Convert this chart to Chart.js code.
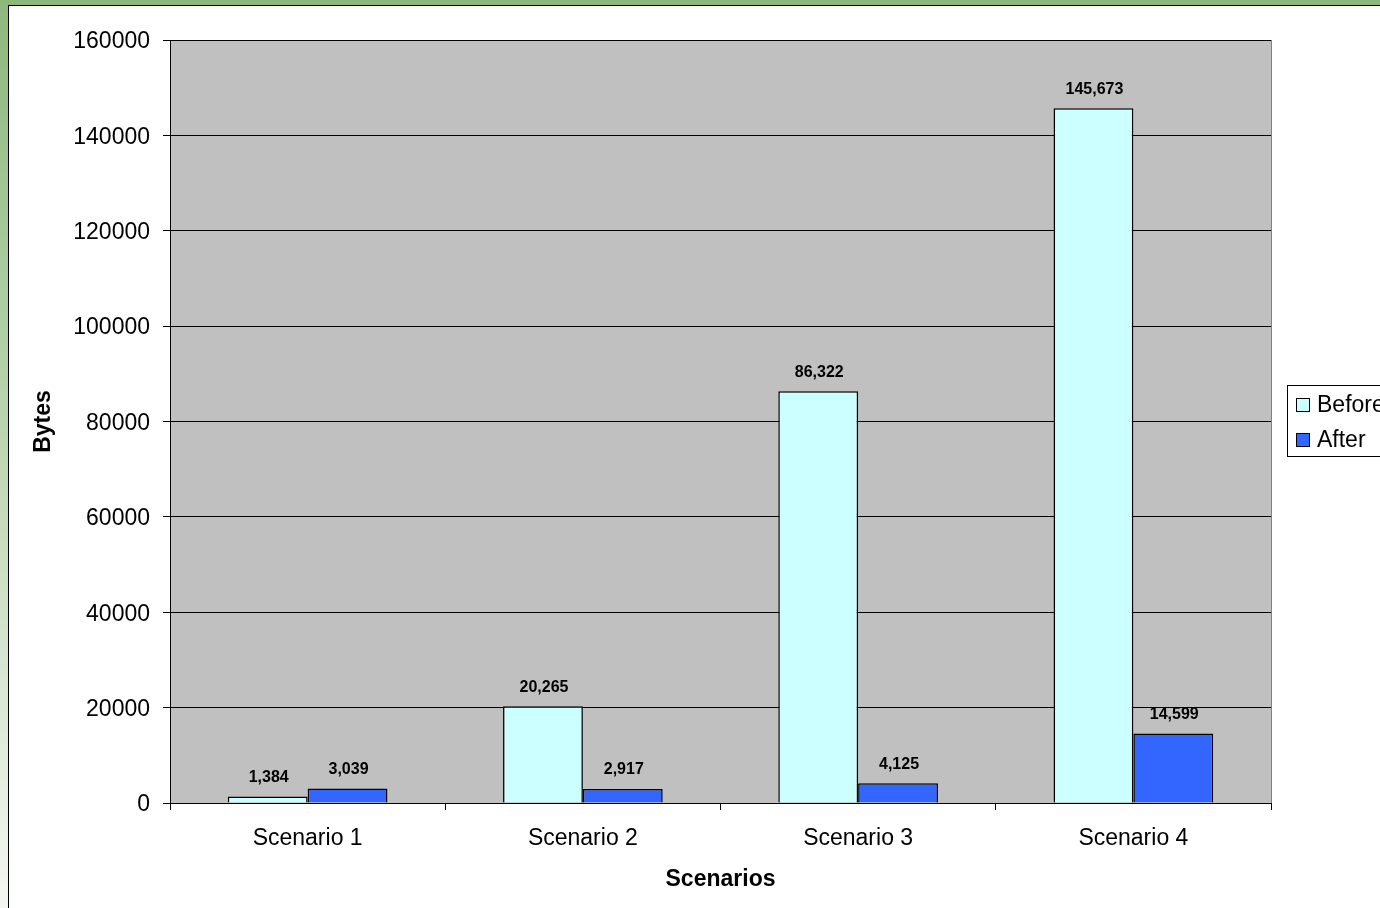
<!DOCTYPE html>
<html>
<head>
<meta charset="utf-8">
<script src="https://cdn.jsdelivr.net/npm/chart.js@4/dist/chart.umd.min.js"></script>
<style>
  html, body { margin: 0; padding: 0; width: 1380px; height: 908px; overflow: hidden; }
  body { background: linear-gradient(to bottom, #8db87c 0%, #b9d3ae 45%, #f3f7f1 100%); position: relative; }
  #frame { position: absolute; left: 8px; top: 5px; right: 0; bottom: 0; background: #fff;
           border-left: 1px solid #000; border-top: 1px solid #000; }
  #topStrip { position: absolute; left: 0; top: 0; right: 0; height: 5px; background: #8db87c; }
  #byteChart { position: absolute; left: 0; top: 0; }
</style>
</head>
<body>
<div id="topStrip"></div>
<div id="frame"></div>
<canvas id="byteChart" width="1380" height="908"></canvas>
<script>
const scenarios = ["Scenario 1", "Scenario 2", "Scenario 3", "Scenario 4"];
const beforeBytes = [1384, 20265, 86322, 145673];
const afterBytes = [3039, 2917, 4125, 14599];
const yTicks = [0, 20000, 40000, 60000, 80000, 100000, 120000, 140000, 160000];

const FONT = "'Liberation Sans', Arial, sans-serif";

// gray plot area + frame
const plotBackground = {
  id: 'plotBackground',
  beforeDraw(chart) {
    const {ctx, chartArea: a} = chart;
    ctx.save();
    ctx.fillStyle = '#c0c0c0';
    ctx.fillRect(a.left, a.top, a.right - a.left, a.bottom - a.top);
    ctx.strokeStyle = '#808080';
    ctx.lineWidth = 1;
    ctx.strokeRect(a.left + 0.5, a.top + 0.5, a.right - a.left, a.bottom - a.top);
    ctx.restore();
  }
};

// numbers above bars
const barValues = {
  id: 'barValues',
  afterDatasetsDraw(chart) {
    const {ctx} = chart;
    ctx.save();
    ctx.font = "bold 16px " + FONT;
    ctx.fillStyle = '#000';
    ctx.textAlign = 'center';
    ctx.textBaseline = 'middle';
    chart.data.datasets.forEach((ds, i) => {
      chart.getDatasetMeta(i).data.forEach((bar, j) => {
        ctx.fillText(ds.data[j].toLocaleString('en-US'), bar.x + 1, bar.y - 19);
      });
    });
    ctx.restore();
  }
};

// legend box on the right (runs off the edge like the original)
const sideLegend = {
  id: 'sideLegend',
  afterDraw(chart) {
    const {ctx} = chart;
    const x = 1287.5, y = 385.5;
    ctx.save();
    ctx.fillStyle = '#fff';
    ctx.strokeStyle = '#000';
    ctx.lineWidth = 1;
    ctx.fillRect(x, y, 120, 71);
    ctx.strokeRect(x, y, 120, 71);
    ctx.font = "23px " + FONT;
    ctx.textBaseline = 'middle';
    chart.data.datasets.forEach((ds, i) => {
      const cy = 405 + i * 35;
      ctx.fillStyle = ds.backgroundColor;
      ctx.fillRect(1296.5, cy - 6.5, 13, 13);
      ctx.strokeRect(1296.5, cy - 6.5, 13, 13);
      ctx.fillStyle = '#000';
      ctx.fillText(ds.label, 1317, cy + 1);
    });
    ctx.restore();
  }
};

new Chart(document.getElementById('byteChart'), {
  type: 'bar',
  data: {
    labels: scenarios,
    datasets: [
      { label: 'Before', data: beforeBytes, backgroundColor: '#ccffff', borderColor: '#000', borderWidth: 1.5 },
      { label: 'After', data: afterBytes, backgroundColor: '#3366ff', borderColor: '#000', borderWidth: 1.5 }
    ]
  },
  options: {
    responsive: false,
    animation: false,
    devicePixelRatio: 1,
    layout: { padding: { top: 40, right: 109, bottom: 0, left: 0 } },
    datasets: { bar: { barPercentage: 1, categoryPercentage: 0.58 } },
    plugins: { legend: { display: false }, tooltip: { enabled: false } },
    scales: {
      x: {
        grid: { display: true, offset: true, drawOnChartArea: false, tickLength: 7, color: '#000' },
        border: { color: '#000' },
        ticks: { color: '#000', font: { family: FONT, size: 23 }, padding: 15 },
        title: { display: true, text: 'Scenarios', color: '#000',
                 font: { family: FONT, size: 23, weight: 'bold' }, padding: { top: 4, bottom: 15 } },
        afterFit(scale) { scale.height = 908 - 803; }
      },
      y: {
        min: 0, max: 160000,
        afterBuildTicks(scale) { scale.ticks = yTicks.map(v => ({ value: v })); },
        grid: { color: '#000', tickLength: 7 },
        border: { color: '#000' },
        ticks: { color: '#000', font: { family: FONT, size: 23 }, padding: 13, labelOffset: 2,
                 callback: v => String(v) },
        title: { display: true, text: 'Bytes', color: '#000',
                 font: { family: FONT, size: 23, weight: 'bold' }, padding: { top: 30, bottom: 4 } },
        afterFit(scale) { scale.width = 170; }
      }
    }
  },
  plugins: [plotBackground, barValues, sideLegend]
});
</script>
</body>
</html>
